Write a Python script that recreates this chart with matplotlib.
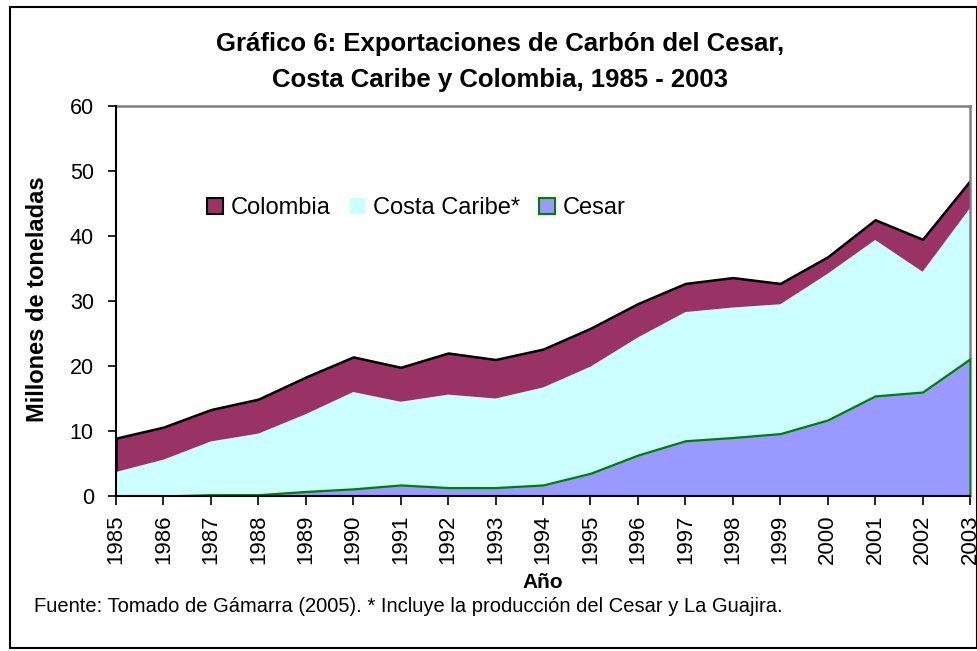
import matplotlib
matplotlib.use("Agg")
import matplotlib.pyplot as plt
from matplotlib.patches import Patch, Rectangle

plt.rcParams["font.family"] = ["Liberation Sans", "DejaVu Sans"]

years = list(range(1985, 2004))
colombia = [8.9, 10.6, 13.3, 14.9, 18.3, 21.4, 19.8, 22.0, 21.0, 22.6,
            25.8, 29.6, 32.7, 33.6, 32.7, 36.8, 42.5, 39.5, 48.5]
costa_caribe = [3.7, 5.6, 8.4, 9.6, 12.6, 16.0, 14.5, 15.6, 15.0, 16.7,
                19.9, 24.4, 28.3, 29.0, 29.5, 34.2, 39.4, 34.5, 44.3]
cesar = [0.0, 0.0, 0.2, 0.2, 0.7, 1.1, 1.7, 1.3, 1.3, 1.7,
         3.5, 6.3, 8.5, 9.0, 9.6, 11.7, 15.4, 16.0, 21.1]

c_col = "#993366"
c_cc = "#ccffff"
c_ces = "#9999ff"
c_green = "#008000"

fig = plt.figure(figsize=(9.78, 6.51), dpi=100)
ax = fig.add_axes([116 / 978, 1 - 496 / 651, 854 / 978, 390 / 651])

ax.fill_between(years, 0, colombia, facecolor=c_col, edgecolor="black",
                linewidth=1.8, zorder=1)
ax.fill_between(years, 0, costa_caribe, facecolor=c_cc, edgecolor="none",
                zorder=2)
ax.fill_between(years, 0, cesar, facecolor=c_ces, edgecolor=c_green,
                linewidth=1.6, zorder=3)

ax.set_xlim(1985, 2003)
ax.set_ylim(0, 60)
ax.set_yticks(range(0, 61, 10))
ax.set_xticks(years)
ax.set_xticklabels([str(y) for y in years], rotation=90, fontsize=16)
ax.tick_params(axis="y", labelsize=15.5, length=6, width=1.2, pad=10)
ax.tick_params(axis="x", length=6.5, width=1.2, pad=7)

for s in ["left", "bottom"]:
    ax.spines[s].set_color("black")
    ax.spines[s].set_linewidth(1.5)
    ax.spines[s].set_zorder(5)
for s in ["top", "right"]:
    ax.spines[s].set_color("#808080")
    ax.spines[s].set_linewidth(1.8)

fig.text(38 / 978, 1 - 299 / 651, "Millones de toneladas", rotation=90,
         ha="center", va="center", fontsize=17, fontweight="bold")
fig.text(543 / 978, 1 - 583 / 651, "Año", ha="center", va="center",
         fontsize=15, fontweight="bold")

handles = [Patch(facecolor=c_col, edgecolor="black", linewidth=1.5),
           Patch(facecolor=c_cc, edgecolor="none"),
           Patch(facecolor=c_ces, edgecolor=c_green, linewidth=1.5)]
ax.legend(handles, ["Colombia", "Costa Caribe*", "Cesar"], loc="center",
          bbox_to_anchor=(0.352, 0.738), ncol=3, frameon=False, fontsize=17,
          handlelength=0.65, handleheight=0.65, handletextpad=0.35,
          columnspacing=0.8)

fig.text(500 / 978, 1 - 51 / 651, "Gráfico 6: Exportaciones de Carbón del Cesar,",
         ha="center", va="baseline", fontsize=18.5, fontweight="bold")
fig.text(500 / 978, 1 - 87 / 651, "Costa Caribe y Colombia, 1985 - 2003",
         ha="center", va="baseline", fontsize=18.5, fontweight="bold")
fig.text(34 / 978, 1 - 612 / 651,
         "Fuente: Tomado de Gámarra (2005). * Incluye la producción del Cesar y La Guajira.",
         ha="left", va="baseline", fontsize=14.5)

fig.patches.append(Rectangle((10 / 978, 3 / 651), 967 / 978, 641 / 651,
                             transform=fig.transFigure, fill=False,
                             edgecolor="black", linewidth=1.5))

fig.savefig("out.png", dpi=100, facecolor="white")
